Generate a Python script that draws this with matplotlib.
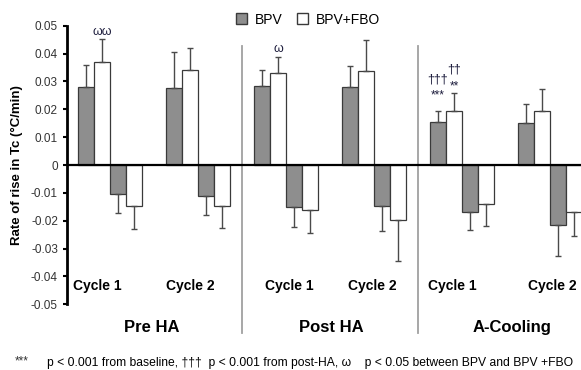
import matplotlib
matplotlib.use("Agg")
import matplotlib.pyplot as plt
from matplotlib.patches import Patch

plt.rcParams['font.family'] = ['Liberation Sans', 'DejaVu Sans']

# groups: Pre HA c1, c2, Post HA c1, c2, A-Cooling c1, c2
cycles = ["Cycle 1", "Cycle 2", "Cycle 1", "Cycle 2", "Cycle 1", "Cycle 2"]
phases = ["Pre HA", "Post HA", "A-Cooling"]

bpv_pos = [0.0281, 0.0276, 0.0284, 0.0281, 0.0156, 0.0149]
bpv_pos_sd = [0.0079, 0.0130, 0.0058, 0.0074, 0.0039, 0.0071]
fbo_pos = [0.0369, 0.0341, 0.0332, 0.0337, 0.0195, 0.0195]
fbo_pos_sd = [0.0082, 0.0079, 0.0056, 0.0110, 0.0065, 0.0077]
bpv_neg = [-0.0103, -0.0113, -0.0151, -0.0146, -0.0167, -0.0215]
bpv_neg_sd = [0.0069, 0.0065, 0.0073, 0.0090, 0.0065, 0.0113]
fbo_neg = [-0.0146, -0.0146, -0.0160, -0.0196, -0.0141, -0.0167]
fbo_neg_sd = [0.0082, 0.0079, 0.0084, 0.0149, 0.0077, 0.0088]

yticks = [0.05, 0.04, 0.03, 0.02, 0.01, 0, -0.01, -0.02, -0.03, -0.04, -0.05]
ytick_labels = ["0.05", "0.04", "0.03", "0.02", "0.01", "0", "-0.01", "-0.02", "-0.03", "-0.04", "-0.05"]

fig = plt.figure(figsize=(5.81, 3.70), dpi=100)
ax = fig.add_axes([0.1153, 0.1776, 0.8847, 0.7529])

gray = "#8e8e8e"
edge = "#3a3a3a"
errc = "#4a4a4a"
w = 1.0
starts = [0.6875 + 5.5 * i for i in range(6)]

series = [(bpv_pos, bpv_pos_sd, gray, 1), (fbo_pos, fbo_pos_sd, "white", 1),
          (bpv_neg, bpv_neg_sd, gray, -1), (fbo_neg, fbo_neg_sd, "white", -1)]
for j, (vals, sds, col, sign) in enumerate(series):
    xs = [s + j + 0.5 for s in starts]
    zeros = [0] * len(sds)
    yerr = [zeros, sds] if sign > 0 else [sds, zeros]
    ax.bar(xs, vals, width=w, color=col, edgecolor=edge, linewidth=0.9, zorder=2)
    ax.errorbar(xs, vals, yerr=yerr, fmt="none", ecolor=errc, elinewidth=1.0,
                capsize=2, capthick=1.0, zorder=3)

ax.axhline(0, color="black", linewidth=1.6, zorder=4)

# separators between phases
for sx in [10.9375, 21.9375]:
    ax.axvline(sx, ymin=-0.103, ymax=0.927, color="#a0a0a0", linewidth=1.3,
               clip_on=False, zorder=1)

# cycle labels
cyc_x = [1.9, 7.7, 13.9, 19.1, 24.1, 30.3]
for x, lab in zip(cyc_x, cycles):
    ax.text(x, -0.0434, lab, ha="center", va="center", fontsize=10, fontweight="bold")

phase_x = [5.3, 16.5, 27.8]
for x, lab in zip(phase_x, phases):
    ax.text(x, -0.0585, lab, ha="center", va="center", fontsize=12, fontweight="bold",
            clip_on=False)

# significance markers
sym = "#1c1c3c"
ax.text(starts[0] + 1.5, 0.0477, "ωω", ha="center", va="center", fontsize=9, color=sym)
ax.text(starts[2] + 1.5, 0.0416, "ω", ha="center", va="center", fontsize=9, color=sym)
ax.text(starts[4] + 0.5, 0.0307, "†††", ha="center", va="center", fontsize=9, color=sym)
ax.text(starts[4] + 0.5, 0.0250, "***", ha="center", va="center", fontsize=8.5, color=sym)
ax.text(starts[4] + 1.5, 0.0342, "††", ha="center", va="center", fontsize=9, color=sym)
ax.text(starts[4] + 1.5, 0.0283, "**", ha="center", va="center", fontsize=8.5, color=sym)

ax.set_xlim(0, 32.125)
ax.set_ylim(-0.05, 0.05)
ax.set_yticks(yticks)
ax.set_yticklabels(ytick_labels, fontsize=8.5, color="#333333")
ax.set_xticks([])
ax.tick_params(axis="y", direction="out", length=3, width=1.5)
for s in ["top", "right", "bottom"]:
    ax.spines[s].set_visible(False)
ax.spines["left"].set_linewidth(2)
ax.set_ylabel("Rate of rise in Tc (°C/min)", fontsize=9.5, fontweight="bold", labelpad=6)

handles = [Patch(facecolor=gray, edgecolor=edge, label="BPV"),
           Patch(facecolor="white", edgecolor=edge, label="BPV+FBO")]
fig.legend(handles=handles, loc="upper center", bbox_to_anchor=(0.53, 1.0), ncol=2,
           frameon=False, fontsize=10, handlelength=0.8, handleheight=0.8,
           columnspacing=1.0, handletextpad=0.6)

fig.text(0.026, 0.024, "***", fontsize=8.5, color="#333333", va="center")
fig.text(0.081, 0.019,
         "p < 0.001 from baseline, †††  p < 0.001 from post-HA, ω    p < 0.05 between BPV and BPV +FBO",
         fontsize=8.7, va="center")

fig.savefig("out.png", dpi=100)
